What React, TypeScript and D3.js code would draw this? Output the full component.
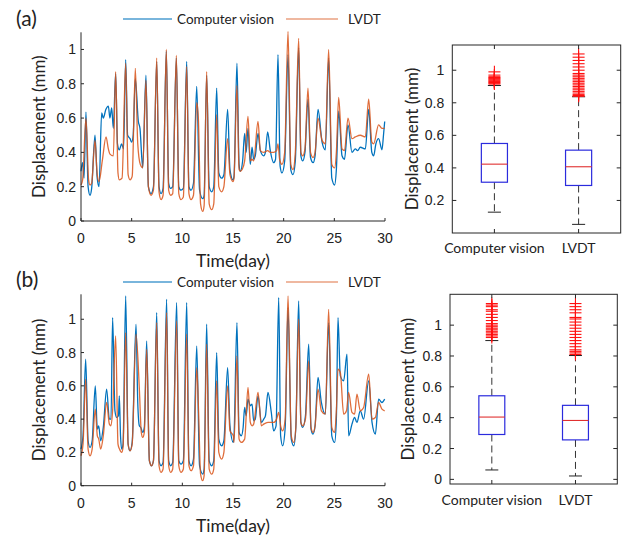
import React from "react"
import * as d3 from "d3"

type Pt = [number, number]

// Shared labels
const seriesNames = ["Computer vision", "LVDT"]
const timeTicks = [0, 5, 10, 15, 20, 25, 30]
const dispTicks = [0, 0.2, 0.4, 0.6, 0.8, 1]
const boxTicksA = [0.2, 0.4, 0.6, 0.8, 1]
const boxTicksB = [0, 0.2, 0.4, 0.6, 0.8, 1]

// (a) time series, [day, mm]
const cvA: Pt[] = [
  [0, 0.29], [0.16, 0.34], [0.3, 0.25], [0.49, 0.635], [0.7, 0.2], [0.89, 0.15], [1.05, 0.19], [1.38, 0.5],
  [1.6, 0.25], [1.78, 0.2], [2.04, 0.63], [2.2, 0.6], [2.45, 0.65], [2.7, 0.67], [2.85, 0.6], [3.03, 0.66],
  [3.19, 0.54], [3.42, 0.86], [3.6, 0.45], [3.78, 0.415], [4.01, 0.45], [4.2, 0.42], [4.41, 0.94], [4.6, 0.5],
  [4.84, 0.48], [5.0, 0.46], [5.15, 0.5], [5.36, 0.83], [5.66, 0.58], [5.82, 0.54], [6.09, 0.31], [6.41, 0.85],
  [6.65, 0.2], [6.91, 0.16], [7.15, 0.2], [7.47, 0.93], [7.7, 0.2], [7.9, 0.16], [8.1, 0.19], [8.42, 0.99],
  [8.65, 0.22], [8.85, 0.19], [9.05, 0.2], [9.41, 0.95], [9.65, 0.2], [9.87, 0.18], [10.1, 0.19], [10.43, 0.93],
  [10.65, 0.2], [10.86, 0.18], [11.1, 0.22], [11.42, 0.785], [11.7, 0.18], [12.01, 0.13], [12.15, 0.15],
  [12.4, 0.85], [12.65, 0.2], [12.9, 0.17], [13.1, 0.2], [13.39, 0.775], [13.6, 0.28], [13.88, 0.25],
  [14.1, 0.27], [14.47, 0.65], [14.7, 0.3], [15.0, 0.24], [15.1, 0.26], [15.39, 0.92], [15.6, 0.33],
  [15.72, 0.29], [15.95, 0.35], [16.15, 0.51], [16.3, 0.4], [16.48, 0.54], [16.71, 0.33], [16.88, 0.43],
  [17.04, 0.36], [17.2, 0.38], [17.47, 0.51], [17.7, 0.41], [18.03, 0.38], [18.2, 0.4], [18.42, 0.52],
  [18.68, 0.41], [19.01, 0.34], [19.2, 0.36], [19.44, 0.97], [19.65, 0.32], [19.83, 0.28], [20.1, 0.35],
  [20.43, 0.97], [20.7, 0.3], [20.92, 0.27], [21.15, 0.35], [21.48, 1.01], [21.7, 0.38], [21.88, 0.35],
  [22.1, 0.4], [22.4, 0.71], [22.65, 0.37], [22.9, 0.34], [23.1, 0.38], [23.39, 0.65], [23.79, 0.46],
  [24.11, 0.415], [24.44, 0.95], [24.75, 0.25], [25.03, 0.21], [25.2, 0.3], [25.43, 0.64], [25.76, 0.38],
  [26.0, 0.36], [26.35, 0.56], [26.74, 0.4], [27.07, 0.42], [27.3, 0.41], [27.56, 0.43], [28.06, 0.42],
  [28.39, 0.65], [28.7, 0.4], [28.88, 0.38], [29.1, 0.45], [29.37, 0.48], [29.7, 0.415], [29.85, 0.5],
  [29.97, 0.58],
]
const lvdtA: Pt[] = [
  [0, 0.21], [0.16, 0.24], [0.49, 0.6], [0.75, 0.24], [0.89, 0.21], [1.05, 0.22], [1.38, 0.47], [1.6, 0.27],
  [1.78, 0.23], [2.1, 0.35], [2.47, 0.49], [2.7, 0.42], [2.86, 0.39], [3.19, 0.38], [3.42, 0.87], [3.65, 0.28],
  [3.78, 0.24], [4.05, 0.25], [4.41, 0.92], [4.65, 0.27], [4.84, 0.24], [5.05, 0.26], [5.36, 0.89], [5.6, 0.45],
  [5.85, 0.33], [6.09, 0.31], [6.41, 0.82], [6.65, 0.2], [6.91, 0.15], [7.15, 0.18], [7.47, 0.95], [7.7, 0.17],
  [7.9, 0.125], [8.1, 0.15], [8.42, 1.0], [8.65, 0.18], [8.85, 0.15], [9.05, 0.16], [9.41, 0.965], [9.65, 0.16],
  [9.87, 0.125], [10.1, 0.14], [10.43, 0.9], [10.65, 0.16], [10.86, 0.125], [11.1, 0.15], [11.42, 0.69],
  [11.58, 0.6], [11.8, 0.1], [12.01, 0.056], [12.15, 0.09], [12.4, 0.87], [12.65, 0.1], [12.9, 0.066],
  [13.1, 0.1], [13.39, 0.62], [13.6, 0.2], [13.88, 0.17], [14.1, 0.2], [14.47, 0.48], [14.7, 0.27], [15.0, 0.23],
  [15.1, 0.25], [15.39, 0.79], [15.6, 0.3], [15.72, 0.29], [15.9, 0.3], [16.15, 0.35], [16.48, 0.61],
  [16.71, 0.35], [16.88, 0.36], [17.04, 0.35], [17.47, 0.58], [17.7, 0.41], [18.03, 0.4], [18.42, 0.41],
  [18.68, 0.4], [19.01, 0.4], [19.3, 0.41], [19.44, 0.45], [19.6, 0.36], [19.83, 0.33], [20.1, 0.4],
  [20.43, 1.105], [20.7, 0.33], [20.92, 0.3], [21.15, 0.4], [21.48, 1.065], [21.7, 0.4], [21.88, 0.38],
  [22.1, 0.42], [22.4, 0.775], [22.65, 0.4], [22.9, 0.37], [23.1, 0.4], [23.39, 0.6], [23.79, 0.47],
  [24.11, 0.45], [24.44, 1.0], [24.75, 0.33], [25.03, 0.31], [25.2, 0.4], [25.43, 0.72], [25.76, 0.42],
  [26.0, 0.41], [26.35, 0.6], [26.74, 0.48], [27.07, 0.49], [27.56, 0.5], [28.06, 0.49], [28.39, 0.71],
  [28.7, 0.46], [28.88, 0.45], [29.37, 0.56], [29.7, 0.54], [29.97, 0.54],
]

// (b) time series, [day, mm]
const cvB: Pt[] = [
  [0, 0.22], [0.2, 0.3], [0.46, 0.76], [0.7, 0.27], [0.89, 0.23], [1.1, 0.27], [1.41, 0.6], [1.61, 0.34],
  [1.75, 0.36], [1.94, 0.27], [2.2, 0.35], [2.53, 0.58], [2.8, 0.4], [2.96, 0.4], [3.12, 1.01], [3.35, 0.45],
  [3.52, 0.41], [3.7, 0.42], [3.78, 0.54], [3.9, 0.3], [4.01, 0.22], [4.15, 0.25], [4.41, 1.14], [4.65, 0.25],
  [4.84, 0.21], [5.05, 0.26], [5.43, 0.97], [5.6, 0.5], [5.76, 0.36], [5.9, 0.35], [6.09, 0.32], [6.25, 0.35],
  [6.48, 0.87], [6.75, 0.15], [6.97, 0.12], [7.15, 0.15], [7.47, 1.04], [7.7, 0.15], [7.9, 0.12], [8.1, 0.14],
  [8.45, 1.12], [8.65, 0.15], [8.85, 0.12], [9.05, 0.14], [9.44, 1.1], [9.65, 0.15], [9.87, 0.13], [10.1, 0.15],
  [10.43, 1.1], [10.65, 0.15], [10.86, 0.12], [11.1, 0.16], [11.42, 0.84], [11.7, 0.12], [12.01, 0.07],
  [12.15, 0.1], [12.4, 0.97], [12.65, 0.15], [12.9, 0.12], [13.1, 0.15], [13.39, 0.8], [13.6, 0.28],
  [13.88, 0.24], [14.1, 0.27], [14.47, 0.71], [14.7, 0.36], [15.03, 0.26], [15.1, 0.3], [15.39, 0.98],
  [15.6, 0.32], [15.82, 0.3], [16.0, 0.35], [16.15, 0.47], [16.3, 0.42], [16.48, 0.52], [16.71, 0.48],
  [16.88, 0.49], [17.04, 0.39], [17.2, 0.4], [17.47, 0.54], [17.8, 0.38], [18.03, 0.4], [18.2, 0.42],
  [18.45, 0.56], [18.78, 0.44], [19.01, 0.33], [19.25, 0.36], [19.51, 1.13], [19.7, 0.3], [19.9, 0.24],
  [20.15, 0.35], [20.43, 1.07], [20.75, 0.28], [21.0, 0.24], [21.2, 0.35], [21.48, 1.11], [21.7, 0.38],
  [21.88, 0.35], [22.15, 0.42], [22.47, 0.85], [22.7, 0.34], [22.9, 0.31], [23.1, 0.36], [23.39, 0.65],
  [23.72, 0.5], [24.11, 0.43], [24.44, 0.98], [24.75, 0.3], [25.03, 0.26], [25.2, 0.4], [25.36, 1.01],
  [25.59, 0.66], [25.92, 0.63], [26.25, 0.79], [26.41, 0.3], [26.74, 0.37], [27.0, 0.41], [27.23, 0.38],
  [27.56, 0.45], [27.89, 0.4], [28.39, 0.63], [28.72, 0.38], [29.05, 0.31], [29.37, 0.52], [29.7, 0.5],
  [29.97, 0.52],
]
const lvdtB: Pt[] = [
  [0, 0.18], [0.2, 0.25], [0.46, 0.64], [0.7, 0.22], [0.89, 0.18], [1.1, 0.22], [1.41, 0.46], [1.61, 0.3],
  [1.75, 0.28], [1.94, 0.22], [2.2, 0.3], [2.53, 0.5], [2.8, 0.37], [2.96, 0.36], [3.12, 0.45], [3.42, 0.9],
  [3.65, 0.25], [3.8, 0.22], [4.01, 0.2], [4.15, 0.23], [4.41, 0.92], [4.65, 0.25], [4.84, 0.21], [5.05, 0.25],
  [5.43, 0.91], [5.76, 0.58], [5.95, 0.32], [6.09, 0.29], [6.25, 0.32], [6.48, 0.82], [6.75, 0.15], [6.97, 0.12],
  [7.15, 0.15], [7.47, 0.98], [7.7, 0.12], [7.9, 0.08], [8.1, 0.1], [8.45, 1.04], [8.65, 0.12], [8.85, 0.08],
  [9.05, 0.1], [9.44, 0.99], [9.65, 0.12], [9.87, 0.08], [10.1, 0.1], [10.43, 0.91], [10.65, 0.12], [10.86, 0.09],
  [11.1, 0.12], [11.42, 0.71], [11.6, 0.45], [11.8, 0.07], [12.01, 0.03], [12.15, 0.06], [12.4, 0.85],
  [12.65, 0.1], [12.9, 0.07], [13.1, 0.1], [13.39, 0.63], [13.6, 0.2], [13.88, 0.16], [14.1, 0.2], [14.47, 0.6],
  [14.7, 0.33], [15.03, 0.3], [15.1, 0.26], [15.39, 0.78], [15.6, 0.28], [15.82, 0.26], [16.15, 0.28],
  [16.48, 0.59], [16.71, 0.38], [16.88, 0.36], [17.04, 0.37], [17.47, 0.56], [17.8, 0.36], [18.03, 0.37],
  [18.45, 0.38], [18.78, 0.38], [19.01, 0.38], [19.3, 0.4], [19.51, 0.44], [19.7, 0.36], [19.9, 0.33],
  [20.15, 0.4], [20.43, 1.14], [20.75, 0.3], [21.0, 0.26], [21.2, 0.35], [21.48, 1.0], [21.7, 0.38],
  [21.88, 0.36], [22.15, 0.4], [22.47, 0.75], [22.7, 0.35], [22.9, 0.32], [23.1, 0.36], [23.39, 0.58],
  [23.72, 0.45], [24.11, 0.43], [24.44, 1.06], [24.75, 0.35], [25.03, 0.32], [25.2, 0.45], [25.36, 0.7],
  [25.59, 0.68], [25.92, 0.43], [26.2, 0.45], [26.41, 0.56], [26.74, 0.44], [27.0, 0.43], [27.23, 0.55],
  [27.56, 0.45], [27.89, 0.47], [28.39, 0.67], [28.72, 0.4], [29.05, 0.41], [29.37, 0.5], [29.7, 0.46],
  [29.97, 0.45],
]

// box stats: [lower whisker, q1, median, q3, upper whisker]
const boxA = [
  [0.128, 0.312, 0.423, 0.55, 0.906],
  [0.053, 0.292, 0.407, 0.509, 0.837],
]
const boxB = [
  [0.061, 0.291, 0.404, 0.542, 0.9],
  [0.022, 0.256, 0.382, 0.48, 0.803],
]
const outA = [
  [0.915, 0.92, 0.925, 0.93, 0.935, 0.94, 0.945, 0.95, 0.955, 0.96, 0.97, 0.99],
  [0.84, 0.845, 0.85, 0.86, 0.87, 0.88, 0.89, 0.9, 0.91, 0.92, 0.93, 0.94, 0.95, 0.96, 0.97, 0.98, 1.0, 1.02,
    1.04, 1.06, 1.08, 1.1],
]
const outB = [
  [0.92, 0.93, 0.94, 0.95, 0.96, 0.97, 0.98, 0.99, 1.0, 1.01, 1.03, 1.05, 1.07, 1.09, 1.1, 1.12, 1.13, 1.14],
  [0.81, 0.82, 0.83, 0.84, 0.86, 0.88, 0.9, 0.92, 0.94, 0.96, 0.98, 1.0, 1.02, 1.04, 1.05, 1.08, 1.1, 1.12, 1.14],
]

const BLUE = "#0072bd"
const ORANGE = "#d95319"
const AXIS = "#262626"
const numFont = "'Liberation Sans', Arial, sans-serif"
const txtFont = "Lato, 'Open Sans', sans-serif"

function TimePanel({ cv, lvdt, top, bottom, yMax, tag, tagY, legY }) {
  const left = 81
  const right = 385
  const x = d3.scaleLinear().domain([0, 30]).range([left, right])
  const y = d3.scaleLinear().domain([0, yMax]).range([bottom, top])
  const line = d3
    .line<Pt>()
    .x(d => x(d[0]))
    .y(d => y(d[1]))
    .curve(d3.curveMonotoneX)

  return (
    <g>
      <text x={16} y={tagY} fontFamily={txtFont} fontSize={21} fill="#222">{tag}</text>
      {/* legend */}
      <line x1={123} x2={172} y1={legY} y2={legY} stroke={BLUE} strokeOpacity={0.7} strokeWidth={1.3} />
      <text x={177} y={legY + 4.5} fontFamily={txtFont} fontSize={13.5} fill="#222">{seriesNames[0]}</text>
      <line x1={286} x2={338} y1={legY} y2={legY} stroke={ORANGE} strokeOpacity={0.55} strokeWidth={1.3} />
      <text x={348} y={legY + 4.5} fontFamily={txtFont} fontSize={13.5} fill="#222">{seriesNames[1]}</text>

      <path d={line(cv)} fill="none" stroke={BLUE} strokeWidth={1.3} />
      <path d={line(lvdt)} fill="none" stroke={ORANGE} strokeWidth={1.3} strokeOpacity={0.85} />

      {/* axes */}
      <line x1={left} x2={left} y1={top} y2={bottom} stroke={AXIS} />
      <line x1={left} x2={right} y1={bottom} y2={bottom} stroke={AXIS} />
      {dispTicks.map(t => (
        <g key={`y${t}`}>
          <line x1={left} x2={left + 3} y1={y(t)} y2={y(t)} stroke={AXIS} />
          <text x={left - 5} y={y(t)} dy="0.36em" textAnchor="end" fontFamily={numFont} fontSize={14} fill="#222">
            {t}
          </text>
        </g>
      ))}
      {timeTicks.map(t => (
        <g key={`x${t}`}>
          <line x1={x(t)} x2={x(t)} y1={bottom} y2={bottom - 3} stroke={AXIS} />
          <text x={x(t)} y={bottom + 22} textAnchor="middle" fontFamily={numFont} fontSize={14} fill="#222">
            {t}
          </text>
        </g>
      ))}
      <text x={(left + right) / 2} y={bottom + 46} textAnchor="middle" fontFamily={txtFont} fontSize={17.5} fill="#222">
        Time(day)
      </text>
      <text
        transform={`translate(39, ${(top + bottom) / 2}) rotate(-90)`}
        dy="0.36em"
        textAnchor="middle"
        fontFamily={txtFont}
        fontSize={17}
        fill="#222"
      >
        Displacement (mm)
      </text>
    </g>
  )
}

function BoxPanel({ stats, outliers, left, right, top, bottom, yDomain, ticks, labelX, catY }) {
  const x = d3.scalePoint<string>().domain(seriesNames).range([left, right]).padding(0.5)
  const y = d3.scaleLinear().domain(yDomain).range([bottom, top])
  const bw = x.step() * 0.31
  const cap = bw / 2

  return (
    <g>
      {stats.map((s, i) => {
        const cx = x(seriesNames[i])
        const [lo, q1, med, q3, hi] = s
        return (
          <g key={seriesNames[i]}>
            <line x1={cx} x2={cx} y1={y(q3)} y2={y(hi)} stroke="#333" strokeDasharray="7,4" />
            <line x1={cx} x2={cx} y1={y(q1)} y2={y(lo)} stroke="#333" strokeDasharray="7,4" />
            <line x1={cx - cap / 2} x2={cx + cap / 2} y1={y(hi)} y2={y(hi)} stroke="#222" />
            <line x1={cx - cap / 2} x2={cx + cap / 2} y1={y(lo)} y2={y(lo)} stroke="#222" />
            <rect x={cx - bw / 2} y={y(q3)} width={bw} height={y(q1) - y(q3)} fill="#fff" stroke="#2b2bdd" strokeWidth={1.2} />
            <line x1={cx - bw / 2} x2={cx + bw / 2} y1={y(med)} y2={y(med)} stroke="#e03030" strokeWidth={1.1} />
            {outliers[i].map((o, j) => (
              <g key={j} stroke="#ff1010" strokeWidth={1.1}>
                <line x1={cx - 6} x2={cx + 6} y1={y(o)} y2={y(o)} />
                <line x1={cx} x2={cx} y1={y(o) - 6} y2={y(o) + 6} />
              </g>
            ))}
            <text x={cx} y={catY} textAnchor="middle" fontFamily={txtFont} fontSize={14} fill="#222">
              {seriesNames[i]}
            </text>
            <line x1={cx} x2={cx} y1={top} y2={top + 4} stroke={AXIS} />
            <line x1={cx} x2={cx} y1={bottom} y2={bottom - 4} stroke={AXIS} />
          </g>
        )
      })}
      <rect x={left} y={top} width={right - left} height={bottom - top} fill="none" stroke={AXIS} />
      {ticks.map(t => (
        <g key={t}>
          <line x1={left} x2={left + 4} y1={y(t)} y2={y(t)} stroke={AXIS} />
          <line x1={right} x2={right - 4} y1={y(t)} y2={y(t)} stroke={AXIS} />
          <text x={left - 8} y={y(t)} dy="0.36em" textAnchor="end" fontFamily={numFont} fontSize={14} fill="#222">
            {t}
          </text>
        </g>
      ))}
      <text
        transform={`translate(${labelX}, ${(top + bottom) / 2}) rotate(-90)`}
        dy="0.36em"
        textAnchor="middle"
        fontFamily={txtFont}
        fontSize={17}
        fill="#222"
      >
        Displacement (mm)
      </text>
    </g>
  )
}

export default function App() {
  return (
    <svg width={622} height={536} style={{ position: "absolute", left: 0, top: 0, background: "#fff" }}>
      <TimePanel cv={cvA} lvdt={lvdtA} top={32.3} bottom={221} yMax={1.1} tag="(a)" tagY={26} legY={19} />
      <TimePanel cv={cvB} lvdt={lvdtB} top={294.3} bottom={485.7} yMax={1.15} tag="(b)" tagY={287} legY={282} />
      <BoxPanel
        stats={boxA}
        outliers={outA}
        left={452.3}
        right={620.7}
        top={45}
        bottom={233}
        yDomain={[0, 1.155]}
        ticks={boxTicksA}
        labelX={412}
        catY={253}
      />
      <BoxPanel
        stats={boxB}
        outliers={outB}
        left={450}
        right={617.3}
        top={294.3}
        bottom={484}
        yDomain={[-0.03, 1.2]}
        ticks={boxTicksB}
        labelX={408}
        catY={505}
      />
    </svg>
  )
}
